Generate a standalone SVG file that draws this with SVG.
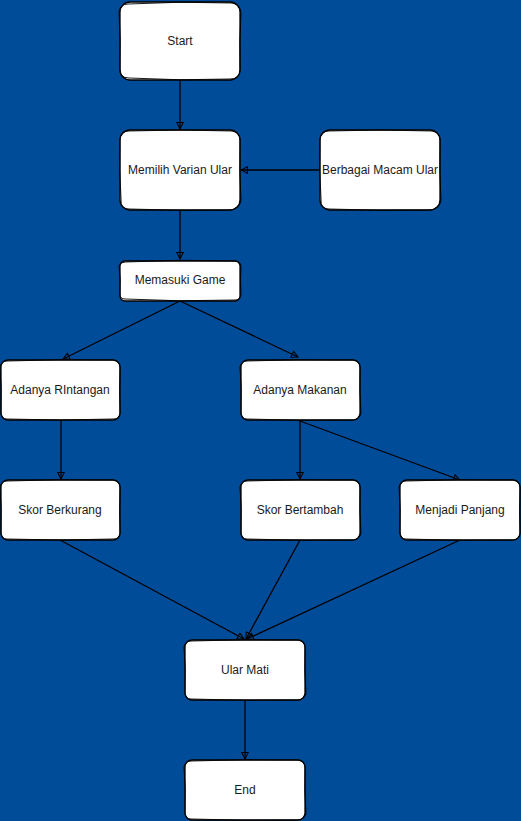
<svg xmlns="http://www.w3.org/2000/svg" width="521" height="821" viewBox="0 0 521 821">
<defs>
<style>
.box{fill:#ffffff;stroke:#000;stroke-width:1.3}
.sk{fill:none;stroke:#000;stroke-width:0.9}
.lbl{font-family:"Liberation Sans",Arial,sans-serif;font-size:12px;fill:#1a1a1a;text-anchor:middle;dominant-baseline:central}
.edge{fill:none;stroke:#000;stroke-width:1.3}
</style>
<marker id="arr" viewBox="0 0 10 10" refX="9" refY="5" markerWidth="8" markerHeight="8" orient="auto" markerUnits="userSpaceOnUse">
<path d="M1,1 L9,5 L1,9 Z" fill="none" stroke="#000" stroke-width="1.3"/>
</marker>
</defs>
<rect x="0" y="0" width="521" height="821" fill="#004C99"/>
<g id="connectors">
<path class="edge" marker-end="url(#arr)" d="M180,80 L180,129"/>
<path class="edge" marker-end="url(#arr)" d="M320,170 L241,170"/>
<path class="edge" marker-end="url(#arr)" d="M180,210 L180,259"/>
<path class="edge" marker-end="url(#arr)" d="M180,301 L63,359"/>
<path class="edge" marker-end="url(#arr)" d="M180,301 L298,357"/>
<path class="edge" marker-end="url(#arr)" d="M61,420 L61,479"/>
<path class="edge" marker-end="url(#arr)" d="M300,420 L300,479"/>
<path class="edge" marker-end="url(#arr)" d="M300,421 L460,480"/>
<path class="edge" marker-end="url(#arr)" d="M60,540 L244,639"/>
<path class="edge" marker-end="url(#arr)" d="M300,540 L246,639"/>
<path class="edge" marker-end="url(#arr)" d="M460,540 L247,639"/>
<path class="edge" marker-end="url(#arr)" d="M245,700 L245,759"/>
</g>
<g id="start">
<rect class="box" x="120" y="2" width="120" height="78" rx="10"/>
<path class="sk" d="M128,4 Q180,1 232,3 Q241,4 241,14 Q239,40 240,70 Q240,79 230,79 Q180,81 129,78 Q119,78 120,68 Q121,40 119,12 Q120,4 128,4"/>
<text class="lbl" x="180" y="41">Start</text>
</g>
<g id="memilih">
<rect class="box" x="120" y="130" width="120" height="80" rx="10"/>
<path class="sk" d="M128,131 Q180,129 232,131 Q241,132 240,142 Q239,170 241,200 Q240,209 230,210 Q180,211 129,209 Q120,209 121,199 Q119,170 120,140 Q120,131 128,131"/>
<text class="lbl" x="180" y="170">Memilih Varian Ular</text>
</g>
<g id="berbagai">
<rect class="box" x="320" y="130" width="120" height="80" rx="10"/>
<path class="sk" d="M328,131 Q380,129 432,131 Q441,132 440,142 Q439,170 441,200 Q440,209 430,210 Q380,211 329,209 Q320,209 321,199 Q319,170 320,140 Q320,131 328,131"/>
<text class="lbl" x="380" y="170">Berbagai Macam Ular</text>
</g>
<g id="memasuki">
<rect class="box" x="120" y="261" width="120" height="40" rx="5"/>
<path class="sk" d="M125,262 Q180,259 236,261 Q241,262 241,267 Q240,280 241,295 Q240,300 235,300 Q180,302 125,299 Q120,299 120,294 Q121,280 119,266 Q120,262 125,262"/>
<text class="lbl" x="180" y="280">Memasuki Game</text>
</g>
<g id="rintangan">
<rect class="box" x="1" y="360" width="119" height="60" rx="7"/>
<path class="sk" d="M7,361 Q60,359 113,360 Q120,361 120,368 Q119,390 120,413 Q120,419 113,419 Q60,421 7,419 Q1,419 1,412 Q2,390 0,367 Q1,361 7,361"/>
<text class="lbl" x="60" y="390">Adanya RIntangan</text>
</g>
<g id="makanan">
<rect class="box" x="241" y="360" width="119" height="60" rx="7"/>
<path class="sk" d="M247,361 Q300,359 353,360 Q360,361 360,368 Q359,390 361,413 Q360,419 353,420 Q300,421 247,419 Q241,419 241,412 Q242,390 240,367 Q241,361 247,361"/>
<text class="lbl" x="300" y="390">Adanya Makanan</text>
</g>
<g id="berkurang">
<rect class="box" x="1" y="480" width="119" height="60" rx="7"/>
<path class="sk" d="M7,481 Q60,479 113,480 Q120,481 120,488 Q119,510 120,533 Q120,539 113,539 Q60,541 7,539 Q1,539 1,532 Q2,510 0,487 Q1,481 7,481"/>
<text class="lbl" x="60" y="510">Skor Berkurang</text>
</g>
<g id="bertambah">
<rect class="box" x="241" y="480" width="119" height="60" rx="7"/>
<path class="sk" d="M247,481 Q300,479 353,480 Q360,481 360,488 Q359,510 361,533 Q360,539 353,540 Q300,541 247,539 Q241,539 241,532 Q242,510 240,487 Q241,481 247,481"/>
<text class="lbl" x="300" y="510">Skor Bertambah</text>
</g>
<g id="panjang">
<rect class="box" x="400" y="480" width="120" height="60" rx="7"/>
<path class="sk" d="M406,481 Q460,479 513,480 Q520,481 520,488 Q519,510 520,533 Q520,539 513,540 Q460,541 406,539 Q400,539 400,532 Q401,510 399,487 Q400,481 406,481"/>
<text class="lbl" x="460" y="510">Menjadi Panjang</text>
</g>
<g id="ularmati">
<rect class="box" x="185" y="640" width="120" height="60" rx="7"/>
<path class="sk" d="M191,641 Q245,639 298,640 Q305,641 305,648 Q304,670 306,693 Q305,699 298,700 Q245,701 191,699 Q185,699 185,692 Q186,670 184,647 Q185,641 191,641"/>
<text class="lbl" x="245" y="670">Ular Mati</text>
</g>
<g id="end">
<rect class="box" x="185" y="760" width="120" height="60" rx="7"/>
<path class="sk" d="M191,761 Q245,759 298,760 Q305,761 305,768 Q304,790 306,813 Q305,819 298,820 Q245,821 191,819 Q185,819 185,812 Q186,790 184,767 Q185,761 191,761"/>
<text class="lbl" x="245" y="790">End</text>
</g>
</svg>
